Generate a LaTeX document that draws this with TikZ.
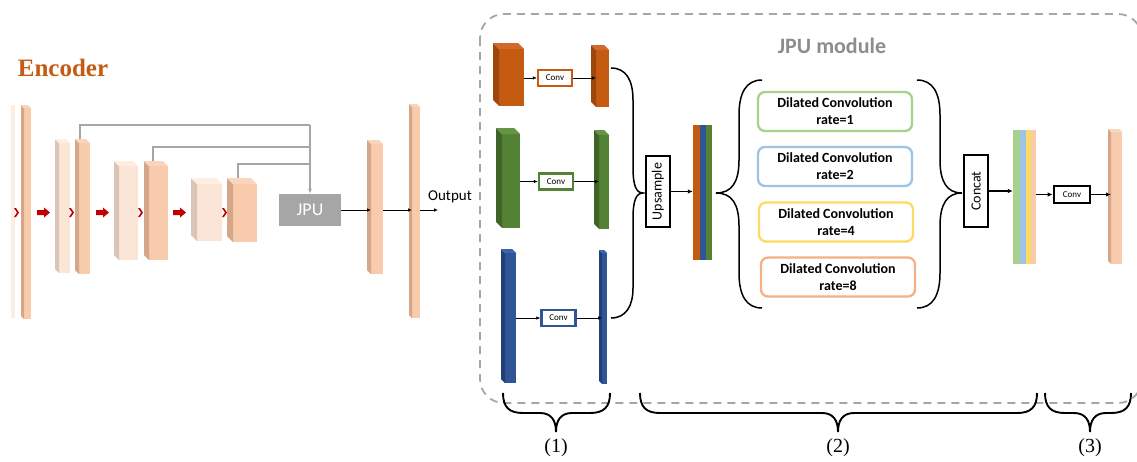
\documentclass[tikz,border=0pt]{standalone}
\usepackage{fontspec}
\setmainfont{Carlito}
\newfontfamily\tnr{Liberation Serif}
\usetikzlibrary{arrows.meta,fit,backgrounds,calc}

\definecolor{peach}{HTML}{F8CBAD}
\definecolor{peachside}{HTML}{D6A688}
\definecolor{peachtop}{HTML}{FAD5BD}
\definecolor{lite}{HTML}{FBE5D6}
\definecolor{liteside}{HTML}{D9C4B6}
\definecolor{litetop}{HTML}{FDEDE3}
\definecolor{orng}{HTML}{C55A11}
\definecolor{orngside}{HTML}{9E470C}
\definecolor{orngtop}{HTML}{D2692A}
\definecolor{grn}{HTML}{548235}
\definecolor{grnside}{HTML}{3F6428}
\definecolor{grntop}{HTML}{649444}
\definecolor{blu}{HTML}{2F5597}
\definecolor{bluside}{HTML}{213F74}
\definecolor{blutop}{HTML}{3D64A8}
\definecolor{encred}{HTML}{C00000}
\definecolor{gline}{HTML}{A6A6A6}
\definecolor{dgreen}{HTML}{A9D18E}
\definecolor{dblue}{HTML}{9DC3E6}
\definecolor{dyellow}{HTML}{FFD966}
\definecolor{dpeach}{HTML}{F4B183}

% #1 name, #2 xl, #3 yt, #4 xr, #5 yb, #6 depth, #7 front, #8 side, #9 top
\newcommand\mkblock[9]{%
 \node[fit={({#2+#6},{#3+#6}) (#4,#5)}, inner sep=0pt, outer sep=0pt, fill=#7] (#1) {};
 \fill[#8] (#1.north west) -- ++(-#6,-#6) -- ($(#1.south west)+(-#6,-#6)$) -- (#1.south west) -- cycle;
 \fill[#9] (#1.north west) -- ++(-#6,-#6) -- ($(#1.north east)+(-#6,-#6)$) -- (#1.north east) -- cycle;
}
\newcommand\chev[1]{\fill[encred] (#1,208) -- ({#1+2},208) -- ({#1+5},212.5) -- ({#1+2},217) -- (#1,217) -- ({#1+3},212.5) -- cycle;}
\newcommand\rarr[1]{\fill[encred] (#1,210) -- ({#1+7},210) -- ({#1+7},207.5) -- ({#1+13},212.5) -- ({#1+7},217.5) -- ({#1+7},215) -- (#1,215) -- cycle;}
\newcommand\hbr[3]{\draw[brc, line width=1.9pt] (#1,393) .. controls (#1,407) and ({#1+6},413) .. ({#1+20},413) -- ({#2-16},413) .. controls ({#2-5},413) and (#2,420) .. (#2,432) .. controls (#2,420) and ({#2+5},413) .. ({#2+16},413) -- ({#3-20},413) .. controls ({#3-6},413) and (#3,407) .. (#3,393);}

\tikzset{
 skip/.style={gline, line width=1.2pt},
 arr/.style={line width=0.7pt, -{Latex[length=4pt,width=3.5pt]}},
 thk/.style={line width=1.6pt, -{Latex[length=5pt,width=4.5pt]}},
 brc/.style={line width=1.5pt, black},
 convbox/.style={draw, fill=white, line width=2.3pt, minimum width=34pt, minimum height=16pt, inner sep=0pt, font=\fontsize{9}{10}\selectfont},
 bigbox/.style={draw=black, fill=white, line width=2.6pt, inner sep=0pt},
 dil/.style={rounded corners=7pt, line width=2.3pt, fill=white, minimum width=154pt, minimum height=39pt, align=center, inner sep=0pt, font=\bfseries\fontsize{14}{17}\selectfont},
 lbl/.style={font=\tnr\fontsize{20}{24}\selectfont},
}

\begin{document}
\begin{tikzpicture}[x=1pt,y=-1pt]
\useasboundingbox (0,0) rectangle (1137,461);
\clip (0,0) rectangle (1137,461);
\begin{scope}[on background layer]
\fill[white] (0,0) rectangle (1137,461);
\end{scope}

% module frame
\draw[gline, line width=1.8pt, dash pattern=on 8pt off 6pt, rounded corners=24pt] (480,14) rectangle (1142,403);
\node[font=\bfseries\fontsize{22}{26}\selectfont, text=gline!85!black] (modlbl) at (832,46) {JPU module};

% encoder
\node[font=\tnr\bfseries\fontsize{25}{30}\selectfont, text=orng] (enc) at (63,68) {Encoder};
\node[fit={(11,105) (15,318)}, inner sep=0pt, fill=lite!70!white] (A) {};
\mkblock{B}{21}{105}{31}{319}{3}{peach}{peachside}{peachtop}
\mkblock{C}{55}{139}{70}{273}{4}{lite}{liteside}{litetop}
\mkblock{D}{75}{139}{90}{274}{4}{peach}{peachside}{peachtop}
\mkblock{E}{114}{161}{138}{260}{5}{lite}{liteside}{litetop}
\mkblock{F}{144}{161}{168}{260}{5}{peach}{peachside}{peachtop}
\mkblock{G}{191}{178}{222}{241}{6}{lite}{liteside}{litetop}
\mkblock{H}{227}{178}{257}{242}{6}{peach}{peachside}{peachtop}
\chev{14}\chev{69}\chev{138}\chev{222}
\rarr{37}\rarr{96}\rarr{173}

\node[fill=gline, minimum width=62pt, minimum height=32pt, inner sep=0pt, text=white, font=\fontsize{18}{20}\selectfont] (JPU) at (310,210) {JPU};
\coordinate (t1) at (310,125);
\coordinate (t2) at (310,147);
\coordinate (t3) at (310,164);
\begin{scope}[on background layer]
\draw[skip] ([xshift=1pt]D.north west) |- (t1);
\draw[skip] ([xshift=4pt]F.north west) |- (t2);
\draw[skip] ([xshift=5pt]H.north west) |- (t3);
\end{scope}
\draw[skip, -{Latex[length=5pt,width=4pt]}] (t1) -- (JPU.north);

\mkblock{I}{367}{140}{383}{274}{4}{peach}{peachside}{peachtop}
\mkblock{J}{409}{104}{420}{318}{3}{peach}{peachside}{peachtop}
\coordinate (outEnd) at (438,210);
\node[font=\fontsize{15}{18}\selectfont] (outlbl) at (450,197) {Output};
\draw[arr] (JPU.east) -- (JPU.east -| I.west);
\draw[arr] (I.east |- JPU.east) -- (JPU.east -| J.west);
\draw[arr] (J.east |- JPU.east) -- (outEnd);

% column (1)
\mkblock{O1}{493}{43}{524}{106}{6}{orng}{orngside}{orngtop}
\mkblock{O2}{591}{45}{609}{107}{5}{orng}{orngside}{orngtop}
\node[convbox, draw=orng] (cO) at (555,78) {Conv};
\mkblock{G1}{496}{128}{520}{228}{6}{grn}{grnside}{grntop}
\mkblock{G2}{594}{130}{609}{229}{5}{grn}{grnside}{grntop}
\node[convbox, draw=grn] (cG) at (556,181.5) {Conv};
\mkblock{B1}{501}{249}{516}{383}{4}{blu}{bluside}{blutop}
\mkblock{B2}{599}{250}{607}{384}{3}{blu}{bluside}{blutop}
\node[convbox, draw=blu] (cB) at (558.5,318) {Conv};
\draw[arr] (O1.east |- cO.west) -- (cO.west);
\draw[arr] (cO.east) -- (cO.east -| O2.west);
\draw[arr] (G1.east |- cG.west) -- (cG.west);
\draw[arr] (cG.east) -- (cG.east -| G2.west);
\draw[arr] (B1.east |- cB.west) -- (cB.west);
\draw[arr] (cB.east) -- (cB.east -| B2.west);

% brace into upsample
\draw[brc] (611,68) .. controls (626,68) and (633,80) .. (633,100) -- (633,168) .. controls (633,185) and (636,193) .. (643,193) .. controls (636,193) and (633,201) .. (633,218) -- (633,288) .. controls (633,306) and (626,318) .. (611,318);

\node[bigbox, minimum width=24pt, minimum height=71pt] (US) at (658,191.5) {};
\node[rotate=90, font=\fontsize{14}{16}\selectfont] (UStxt) at (US.center) {Upsample};

% stacked bar
\fill[orng] (693,125) rectangle (700,260);
\fill[blu] (700,125) rectangle (706,260);
\fill[grn] (706,125) rectangle (712,260);
\node[fit={(693,125) (712,260)}, inner sep=0pt] (SB) {};
\draw[thk] (US.east) -- (US.east -| SB.west);

% brace to dilated convs
\draw[brc] (762,80) .. controls (746,80) and (739,93) .. (739,115) -- (739,160) .. controls (739,182) and (732,193) .. (716,193) .. controls (732,193) and (739,204) .. (739,226) -- (739,273) .. controls (739,295) and (746,308) .. (762,308);

\node[dil, draw=dgreen] (d1) at (835,111.5) {Dilated Convolution\\rate=1};
\node[dil, draw=dblue] (d2) at (835,166.5) {Dilated Convolution\\rate=2};
\node[dil, draw=dyellow] (d4) at (836,222) {Dilated Convolution\\rate=4};
\node[dil, draw=dpeach] (d8) at (838,277) {Dilated Convolution\\rate=8};

% brace into concat
\draw[brc] (917,80) .. controls (933,80) and (940,93) .. (940,115) -- (940,160) .. controls (940,182) and (947,193) .. (962,193) .. controls (947,193) and (940,204) .. (940,226) -- (940,273) .. controls (940,295) and (933,308) .. (917,308);

\node[bigbox, minimum width=24pt, minimum height=72pt] (CC) at (976,191) {};
\node[rotate=90, font=\fontsize{14}{16}\selectfont] (CCtxt) at (CC.center) {Concat};

% concat bar
\fill[dgreen] (1013,130) rectangle (1020,264);
\fill[dblue] (1020,130) rectangle (1026,264);
\fill[dyellow] (1026,130) rectangle (1031,264);
\fill[peach] (1031,130) rectangle (1036,264);
\node[fit={(1013,130) (1036,264)}, inner sep=0pt] (CB) {};
\draw[thk] (CC.east) -- (CC.east -| CB.west);

\node[bigbox, minimum width=36pt, minimum height=17pt, font=\fontsize{9}{10}\selectfont] (CV) at (1072,194.5) {Conv};
\draw[thk] (CB.east |- CV.west) -- (CV.west);
\mkblock{FB}{1108}{129}{1122}{264}{3}{peach}{peachside}{peachtop}
\draw[thk] (CV.east) -- (CV.east -| FB.west);

% bottom braces
\hbr{503}{556}{610}
\hbr{640}{838}{1037}
\hbr{1045}{1090}{1131}
\node[lbl] (l1) at (556,448) {(1)};
\node[lbl] (l2) at (838,448) {(2)};
\node[lbl] (l3) at (1090,448) {(3)};
\end{tikzpicture}
\end{document}
